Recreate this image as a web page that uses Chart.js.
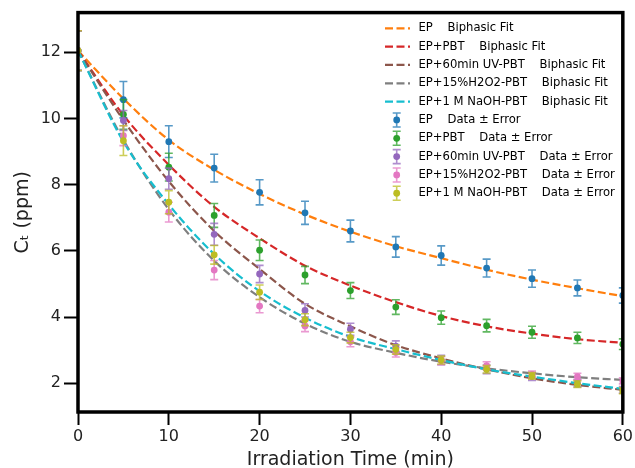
<!DOCTYPE html>
<html><head><meta charset="utf-8">
<script src="https://cdn.jsdelivr.net/npm/chart.js@4.4.1/dist/chart.umd.min.js"></script>
<style>html,body{margin:0;padding:0;background:#fff}#wrap{width:635px;height:468px;position:relative}</style>
</head><body><div id="wrap"><canvas id="c" width="635" height="468"></canvas></div>
<script>
// ---- data ----
const times = [0,5,10,15,20,25,30,35,40,45,50,55,60];
const seriesNames = ['EP','EP+PBT','EP+60min UV-PBT','EP+15%H2O2-PBT','EP+1 M NaOH-PBT'];
const xTicks = [0,10,20,30,40,50,60];
const yTicks = [2,4,6,8,10,12];

const epData   = [12.05,10.57,9.30,8.50,7.77,7.15,6.60,6.12,5.86,5.48,5.16,4.88,4.65];
const epErr    = [0.60,0.55,0.48,0.42,0.38,0.35,0.33,0.31,0.29,0.27,0.26,0.24,0.23];
const epFit    = [12.05,10.60,9.35,8.45,7.72,7.10,6.58,6.14,5.78,5.43,5.13,4.87,4.63];

const pbtData  = [12.05,10.12,8.53,7.07,6.02,5.27,4.80,4.30,3.98,3.74,3.54,3.37,3.18];
const pbtErr   = [0.60,0.45,0.42,0.36,0.31,0.26,0.24,0.22,0.20,0.19,0.18,0.17,0.16];
const pbtFit   = [12.05,10.10,8.60,7.33,6.38,5.55,4.95,4.45,4.03,3.72,3.50,3.33,3.22];

const uvData   = [12.05,9.94,8.18,6.50,5.30,4.20,3.63,3.12,2.70,2.42,2.20,2.00,1.80];
const uvErr    = [0.60,0.30,0.32,0.33,0.26,0.20,0.18,0.16,0.14,0.13,0.12,0.11,0.10];
const uvFit    = [12.05,9.95,8.10,6.60,5.45,4.40,3.72,3.15,2.75,2.42,2.15,1.95,1.80];

const h2o2Data = [12.05,9.48,7.17,5.42,4.33,3.73,3.25,2.93,2.68,2.53,2.27,2.20,2.07];
const h2o2Err  = [0.60,0.30,0.30,0.29,0.20,0.17,0.15,0.14,0.12,0.12,0.10,0.10,0.09];
const h2o2Fit  = [12.05,9.35,7.25,5.70,4.60,3.80,3.25,2.92,2.65,2.45,2.30,2.18,2.10];

const naohData = [12.05,9.33,7.47,5.88,4.75,3.92,3.38,3.02,2.70,2.42,2.22,1.97,1.77];
const naohErr  = [0.60,0.45,0.35,0.28,0.22,0.18,0.16,0.14,0.12,0.11,0.10,0.10,0.09];
const naohFit  = [12.05,9.30,7.40,5.90,4.78,3.98,3.40,3.03,2.70,2.42,2.20,2.00,1.83];

const fitColors  = ['#ff7f0e','#d62728','#8c564b','#7f7f7f','#17becf'];
const dataColors = ['#1f77b4','#2ca02c','#9467bd','#e377c2','#bcbd22'];
const allData = [epData,pbtData,uvData,h2o2Data,naohData];
const allErr  = [epErr,pbtErr,uvErr,h2o2Err,naohErr];
const allFit  = [epFit,pbtFit,uvFit,h2o2Fit,naohFit];

const FONT = '"DejaVu Sans", sans-serif';
const pts = arr => arr.map((v,i)=>({x:times[i], y:v}));

const datasets = [];
seriesNames.forEach((n,i)=>{
  datasets.push({label:n+'    Biphasic Fit', data:pts(allFit[i]), showLine:true, borderColor:fitColors[i],
    borderWidth:2.2, borderDash:[8,3.5], pointRadius:0, cubicInterpolationMode:'monotone', fill:false, order:10-i});
});
seriesNames.forEach((n,i)=>{
  datasets.push({label:n+'    Data \u00b1 Error', data:pts(allData[i]), showLine:false, errors:allErr[i],
    backgroundColor:dataColors[i], borderColor:dataColors[i], pointBackgroundColor:dataColors[i],
    pointBorderColor:dataColors[i], pointRadius:3.4, pointBorderWidth:0, order:5-i});
});

const errorBars = {
  id:'errorBars',
  beforeDatasetDraw(chart, args){
    const ds = chart.data.datasets[args.index];
    if(!ds.errors) return;
    const {ctx, chartArea:a, scales:{x,y}} = chart;
    ctx.save();
    ctx.beginPath(); ctx.rect(a.left,a.top,a.right-a.left,a.bottom-a.top); ctx.clip();
    ctx.strokeStyle = ds.borderColor; ctx.lineWidth = 1.6; ctx.globalAlpha = 0.75;
    ds.data.forEach((p,i)=>{
      const px = x.getPixelForValue(p.x);
      const yt = y.getPixelForValue(p.y + ds.errors[i]);
      const yb = y.getPixelForValue(p.y - ds.errors[i]);
      ctx.beginPath();
      ctx.moveTo(px,yt); ctx.lineTo(px,yb);
      ctx.moveTo(px-4,yt); ctx.lineTo(px+4,yt);
      ctx.moveTo(px-4,yb); ctx.lineTo(px+4,yb);
      ctx.stroke();
    });
    ctx.restore();
  }
};

const frame = {
  id:'frame',
  afterDatasetsDraw(chart){
    const {ctx, chartArea:a} = chart;
    ctx.save();
    ctx.strokeStyle = '#000'; ctx.lineWidth = 3.5;
    ctx.strokeRect(a.left, a.top, a.right-a.left, a.bottom-a.top);
    ctx.restore();
  }
};

const legendBox = {
  id:'legendBox',
  afterDraw(chart){
    const {ctx} = chart;
    ctx.save();
    ctx.font = '11.6px ' + FONT;
    ctx.textBaseline = 'middle';
    ctx.fillStyle = '#000';
    const y0 = 28.3, dy = 18.33, lx0 = 385, lx1 = 410, tx = 418.5, mx = 396.7;
    seriesNames.forEach((n,i)=>{
      const yy = y0 + dy*i;
      ctx.strokeStyle = fitColors[i]; ctx.lineWidth = 2.2; ctx.setLineDash([8,3.5]);
      ctx.beginPath(); ctx.moveTo(lx0,yy); ctx.lineTo(lx1,yy); ctx.stroke();
      ctx.setLineDash([]);
      ctx.fillText(n + '    Biphasic Fit', tx, yy);
    });
    seriesNames.forEach((n,i)=>{
      const yy = y0 + dy*(i+5);
      ctx.strokeStyle = dataColors[i]; ctx.globalAlpha = 0.75; ctx.lineWidth = 1.6;
      ctx.beginPath();
      ctx.moveTo(mx,yy-7); ctx.lineTo(mx,yy+7);
      ctx.moveTo(mx-4,yy-7); ctx.lineTo(mx+4,yy-7);
      ctx.moveTo(mx-4,yy+7); ctx.lineTo(mx+4,yy+7);
      ctx.stroke();
      ctx.globalAlpha = 1;
      ctx.fillStyle = dataColors[i];
      ctx.beginPath(); ctx.arc(mx,yy,3.4,0,Math.PI*2); ctx.fill();
      ctx.fillStyle = '#000';
      ctx.fillText(n + '    Data \u00b1 Error', tx, yy);
    });
    ctx.restore();
  }
};

new Chart(document.getElementById('c'), {
  type:'line',
  data:{datasets},
  plugins:[errorBars, frame, legendBox],
  options:{
    responsive:false, animation:false, devicePixelRatio:1,
    layout:{padding:{top:11, right:10.5, left:0, bottom:0}},
    plugins:{legend:{display:false}, tooltip:{enabled:false}},
    scales:{
      x:{type:'linear', min:0, max:60,
        afterBuildTicks:s=>{s.ticks = xTicks.map(v=>({value:v}));},
        afterFit:s=>{s.height = 56;},
        grid:{display:true, drawOnChartArea:false, drawTicks:true, tickLength:13, tickWidth:2, tickColor:'#000'},
        border:{display:false},
        ticks:{color:'#222', font:{family:FONT, size:16}, padding:2, maxRotation:0},
        title:{display:true, text:'Irradiation Time (min)', color:'#222', font:{family:FONT, size:19}, padding:{top:0,bottom:-3}}
      },
      y:{type:'linear', min:1.13, max:13.2,
        afterBuildTicks:s=>{s.ticks = yTicks.map(v=>({value:v}));},
        afterFit:s=>{s.width = 78;},
        grid:{display:true, drawOnChartArea:false, drawTicks:true, tickLength:14, tickWidth:2, tickColor:'#000'},
        border:{display:false},
        ticks:{color:'#222', font:{family:FONT, size:16}, padding:3},
        title:{display:true, text:'C\u209c (ppm)', color:'#222', font:{family:FONT, size:19}, padding:{top:12,bottom:0}}
      }
    }
  }
});
</script></body></html>
